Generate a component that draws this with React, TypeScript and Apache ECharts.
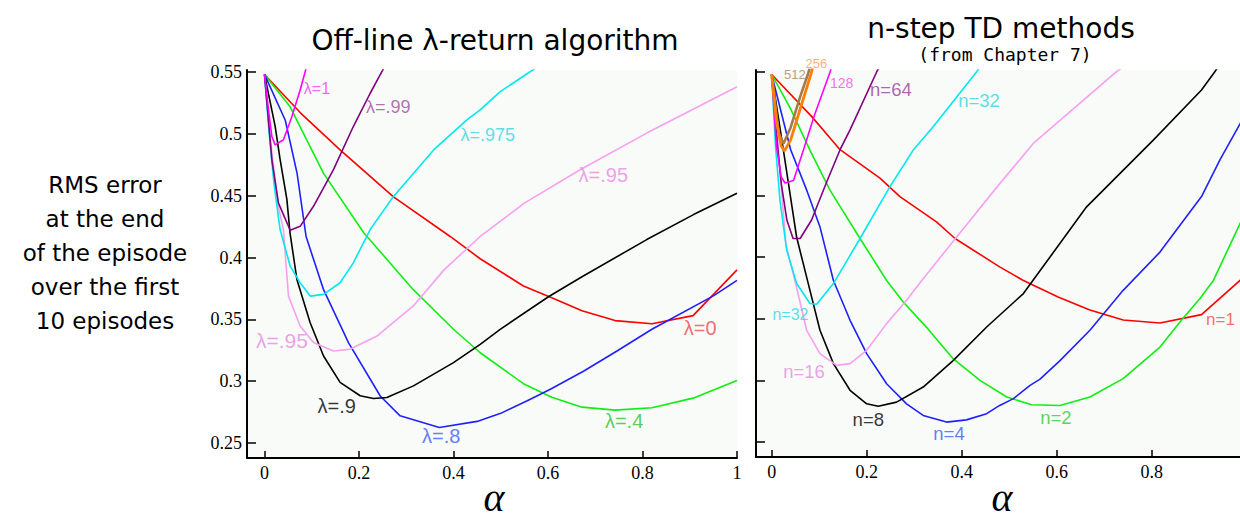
import React, { useEffect, useRef } from "react";
import * as echarts from "echarts";

// ---------- Left: Off-line λ-return algorithm ----------
const L_lambda0 = [[0,0.548],[0.076,0.517],[0.16,0.487],[0.273,0.449],[0.393,0.417],[0.4565,0.399],[0.548,0.377],[0.608,0.3675],[0.672,0.357],[0.742,0.349],[0.82,0.3465],[0.907,0.353],[1.0,0.39]];
const L_lambda04 = [[0,0.548],[0.054,0.522],[0.125,0.468],[0.21,0.42],[0.315,0.374],[0.4,0.342],[0.4565,0.323],[0.548,0.298],[0.608,0.287],[0.672,0.279],[0.742,0.2766],[0.82,0.2785],[0.907,0.2863],[1.0,0.3005]];
const L_lambda08 = [[0,0.548],[0.044,0.511],[0.069,0.468],[0.088,0.417],[0.125,0.374],[0.178,0.331],[0.245,0.288],[0.287,0.272],[0.37,0.2625],[0.45,0.2675],[0.5,0.274],[0.555,0.284],[0.605,0.2935],[0.675,0.308],[0.746,0.3244],[0.82,0.342],[0.95,0.369],[1.0,0.3815]];
const L_lambda09 = [[0,0.548],[0.0226,0.506],[0.0332,0.479],[0.0474,0.447],[0.054,0.42],[0.0686,0.3823],[0.0967,0.3473],[0.125,0.3204],[0.16,0.299],[0.2025,0.2882],[0.2307,0.286],[0.259,0.2868],[0.3153,0.2962],[0.4,0.315],[0.4565,0.3298],[0.4988,0.3419],[0.601,0.3683],[0.672,0.3844],[0.809,0.4145],[0.908,0.4347],[1.0,0.452]];
const L_lambda095 = [[0,0.548],[0.01,0.505],[0.02,0.47],[0.03,0.44],[0.04,0.4226],[0.0508,0.3688],[0.0755,0.3446],[0.1037,0.3312],[0.146,0.3244],[0.181,0.3258],[0.238,0.3365],[0.315,0.3608],[0.38,0.39],[0.4565,0.417],[0.55,0.444],[0.668,0.471],[0.809,0.5006],[1.0,0.5381]];
const L_lambda0975 = [[0,0.548],[0.01,0.5],[0.02,0.46],[0.033,0.4226],[0.0544,0.393],[0.0755,0.3796],[0.0967,0.3688],[0.125,0.3702],[0.16,0.3796],[0.188,0.3957],[0.2237,0.4226],[0.273,0.4494],[0.358,0.487],[0.4283,0.5113],[0.4565,0.5194],[0.499,0.5341],[0.562,0.5502],[0.6,0.56]];
const L_lambda099 = [[0,0.548],[0.0156,0.479],[0.0296,0.444],[0.0544,0.422],[0.0755,0.4252],[0.1037,0.4414],[0.146,0.471],[0.188,0.5059],[0.2237,0.5328],[0.2484,0.5502],[0.27,0.565]];
const L_lambda1 = [[0,0.548],[0.0085,0.5194],[0.0156,0.4978],[0.0226,0.4911],[0.0402,0.4952],[0.058,0.514],[0.0755,0.5355],[0.0861,0.5502],[0.095,0.562]];

// ---------- Right: n-step TD methods ----------
const R_n1 = [[0,0.548],[0.084,0.514],[0.144,0.487],[0.228,0.464],[0.27,0.449],[0.347,0.4285],[0.386,0.415],[0.48,0.392],[0.53,0.381],[0.603,0.3676],[0.67,0.357],[0.74,0.349],[0.8175,0.3465],[0.905,0.3533],[0.986,0.381],[1.0,0.386]];
const R_n2 = [[0,0.548],[0.04,0.52],[0.08,0.487],[0.123,0.454],[0.186,0.415],[0.242,0.381],[0.277,0.3636],[0.326,0.343],[0.382,0.3176],[0.4385,0.30],[0.495,0.2865],[0.547,0.2803],[0.607,0.2797],[0.67,0.2865],[0.74,0.3014],[0.8175,0.327],[0.863,0.349],[0.9017,0.3663],[0.93,0.381],[0.986,0.427],[1.0,0.44]];
const R_n4 = [[0,0.548],[0.04,0.487],[0.074,0.454],[0.1017,0.4244],[0.13,0.381],[0.165,0.3487],[0.2,0.3217],[0.242,0.2973],[0.284,0.281],[0.319,0.2716],[0.368,0.2662],[0.41,0.268],[0.4526,0.273],[0.48,0.2797],[0.509,0.2852],[0.544,0.296],[0.565,0.301],[0.607,0.316],[0.67,0.3406],[0.74,0.373],[0.8175,0.404],[0.905,0.449],[0.944,0.479],[0.986,0.508],[1.0,0.518]];
const R_n8 = [[0,0.548],[0.0245,0.487],[0.0526,0.416],[0.0806,0.373],[0.1017,0.3406],[0.13,0.3136],[0.165,0.292],[0.2,0.281],[0.2244,0.279],[0.263,0.2824],[0.319,0.2946],[0.382,0.316],[0.4526,0.3433],[0.53,0.3704],[0.663,0.4407],[0.8034,0.4948],[0.905,0.5354],[0.933,0.5502],[0.95,0.56]];
const R_n16 = [[0,0.548],[0.014,0.487],[0.03,0.41],[0.049,0.381],[0.0737,0.3406],[0.1017,0.3217],[0.1368,0.3122],[0.165,0.3136],[0.2,0.3244],[0.242,0.346],[0.284,0.365],[0.316,0.381],[0.3895,0.4163],[0.4806,0.4597],[0.5508,0.4921],[0.726,0.5502],[0.76,0.56]];
const R_n32 = [[0,0.548],[0.008,0.49],[0.0175,0.446],[0.0316,0.4055],[0.0526,0.3785],[0.0806,0.3623],[0.0947,0.3617],[0.13,0.3785],[0.186,0.415],[0.249,0.457],[0.298,0.4867],[0.34,0.5056],[0.4316,0.5502],[0.45,0.56]];
const R_n64 = [[0,0.548],[0.01,0.5],[0.02,0.46],[0.032,0.43],[0.045,0.415],[0.06,0.415],[0.084,0.43],[0.116,0.461],[0.144,0.487],[0.165,0.503],[0.221,0.55],[0.235,0.56]];
const R_n128 = [[0,0.548],[0.01,0.49],[0.02,0.465],[0.028,0.46],[0.046,0.462],[0.067,0.487],[0.09,0.515],[0.123,0.55],[0.13,0.56]];
const R_n256 = [[0,0.548],[0.01,0.51],[0.02,0.49],[0.027,0.486],[0.04,0.495],[0.06,0.52],[0.084,0.55],[0.09,0.56]];
const R_n512 = [[0,0.548],[0.015,0.5],[0.025,0.492],[0.04,0.505],[0.06,0.53],[0.077,0.549],[0.085,0.56]];

// ---------- Axis ticks ----------
const xTicksLeft = [0, 0.2, 0.4, 0.6, 0.8, 1];
const xTicksRight = [0, 0.2, 0.4, 0.6, 0.8];
const yTicks = [0.25, 0.3, 0.35, 0.4, 0.45, 0.5, 0.55];

// ---------- Curve labels: [text, x, y] ----------
const leftLabels: [string, number, number][] = [
  ["λ=1", 0.111, 0.5369],
  ["λ=.99", 0.262, 0.522],
  ["λ=.975", 0.4723, 0.4992],
  ["λ=.95", 0.717, 0.467],
  ["λ=.95", 0.037, 0.3325],
  ["λ=.9", 0.153, 0.28],
  ["λ=.8", 0.374, 0.2556],
  ["λ=.4", 0.761, 0.268],
  ["λ=0", 0.922, 0.3433],
];
const rightLabels: [string, number, number][] = [
  ["512", 0.049, 0.5476],
  ["256", 0.0943, 0.5565],
  ["128", 0.1474, 0.5408],
  ["n=64", 0.251, 0.5354],
  ["n=32", 0.4366, 0.5267],
  ["n=32", 0.0396, 0.3536],
  ["n=16", 0.068, 0.3075],
  ["n=8", 0.2034, 0.2686],
  ["n=4", 0.3733, 0.2567],
  ["n=2", 0.5985, 0.2702],
  ["n=1", 0.945, 0.3493],
];

const leftLabelStyle = [
  { color: "#f03cf0", size: 16 },
  { color: "#a04ca2", size: 18 },
  { color: "#34d6e0", size: 18 },
  { color: "#e88ae6", size: 20 },
  { color: "#e88ae6", size: 21 },
  { color: "#000000", size: 20 },
  { color: "#3c5cf5", size: 20 },
  { color: "#34bf34", size: 20 },
  { color: "#f04848", size: 20 },
];
const rightLabelStyle = [
  { color: "#a8845c", size: 13 },
  { color: "#f5a04a", size: 13 },
  { color: "#f04cf0", size: 14 },
  { color: "#9a3e9c", size: 18.5 },
  { color: "#34d6e0", size: 18.5 },
  { color: "#34d6e0", size: 16 },
  { color: "#e88ae6", size: 18.5 },
  { color: "#000000", size: 18.5 },
  { color: "#3c5cf5", size: 18.5 },
  { color: "#34c934", size: 18.5 },
  { color: "#f04848", size: 17 },
];

const TOP = 70;
const HEIGHT = 388;
const YMIN = 0.2379;
const YMAX = 0.5516;

export default function App() {
  const ref = useRef<HTMLDivElement>(null);
  useEffect(() => {
    if (!ref.current) return;
    const chart = echarts.init(ref.current, null, { renderer: "svg" });
    const line = (data: number[][], color: string, idx: number, width = 1.6) => ({
      type: "line",
      xAxisIndex: idx,
      yAxisIndex: idx,
      data,
      showSymbol: false,
      symbol: "none",
      smooth: false,
      lineStyle: { color, width },
      clip: true,
      z: 3,
    });
    const labelSeries = (labels: [string, number, number][], styles: { color: string; size: number }[], idx: number) => ({
      type: "scatter",
      xAxisIndex: idx,
      yAxisIndex: idx,
      symbolSize: 1,
      clip: false,
      itemStyle: { color: "rgba(0,0,0,0)" },
      z: 5,
      data: labels.map((l, i) => ({
        name: l[0],
        value: [l[1], l[2]],
        label: {
          show: true,
          position: "inside",
          formatter: "{b}",
          color: styles[i].color,
          fontSize: styles[i].size,
          fontFamily: "Liberation Sans, Arial, sans-serif",
        },
      })),
    });
    const xAxis = (idx: number, min: number, max: number, ticks: number[]) => ({
      type: "value",
      gridIndex: idx,
      min,
      max,
      axisLine: { show: true, onZero: false, lineStyle: { color: "#000", width: 2 } },
      axisTick: { show: true, inside: true, length: 7, customValues: ticks, lineStyle: { color: "#000", width: 1.5 } },
      axisLabel: {
        show: true,
        customValues: ticks,
        formatter: (v: number) => String(Math.round(v * 10) / 10),
        color: "#000",
        fontSize: 18,
        fontFamily: "Liberation Serif, Times New Roman, serif",
        margin: 6,
      },
      splitLine: { show: false },
    });
    const yAxis = (idx: number, showLabels: boolean) => ({
      type: "value",
      gridIndex: idx,
      min: YMIN,
      max: YMAX,
      axisLine: { show: true, onZero: false, lineStyle: { color: "#000", width: 2 } },
      axisTick: { show: true, inside: true, length: 9, customValues: yTicks, lineStyle: { color: "#000", width: 1.5 } },
      axisLabel: {
        show: showLabels,
        customValues: yTicks,
        formatter: (v: number) => String(Math.round(v * 100) / 100),
        color: "#000",
        fontSize: 18,
        fontFamily: "Liberation Serif, Times New Roman, serif",
        margin: 5,
      },
      splitLine: { show: false },
    });
    const alpha = (x: number) => ({
      type: "text",
      x,
      y: 517,
      style: {
        text: "α",
        fontSize: 40,
        fontStyle: "italic",
        fontFamily: "Liberation Serif, serif",
        fill: "#000",
        textAlign: "center",
        textVerticalAlign: "bottom",
      },
    });

    chart.setOption({
      animation: false,
      backgroundColor: "#ffffff",
      grid: [
        { left: 247, top: TOP, width: 490, height: HEIGHT, show: true, backgroundColor: "#f8fbf7", borderWidth: 0, containLabel: false, outerBoundsMode: "none" },
        { left: 756, top: TOP, width: 484, height: HEIGHT - 1, show: true, backgroundColor: "#f8fbf7", borderWidth: 0, containLabel: false, outerBoundsMode: "none" },
      ],
      xAxis: [xAxis(0, -0.037, 1, xTicksLeft), xAxis(1, -0.033, 0.986, xTicksRight)],
      yAxis: [yAxis(0, true), yAxis(1, false)],
      graphic: [
        {
          type: "text",
          x: 495,
          y: 40,
          style: { text: "Off-line λ-return algorithm", fontSize: 28, fontFamily: "DejaVu Sans, sans-serif", fill: "#000", textAlign: "center", textVerticalAlign: "middle" },
        },
        {
          type: "text",
          x: 1001,
          y: 28,
          style: { text: "n-step TD methods", fontSize: 28, fontFamily: "DejaVu Sans, sans-serif", fill: "#000", textAlign: "center", textVerticalAlign: "middle" },
        },
        {
          type: "text",
          x: 1005,
          y: 54,
          style: { text: "(from Chapter 7)", fontSize: 18, fontFamily: "DejaVu Sans Mono, monospace", fill: "#000", textAlign: "center", textVerticalAlign: "middle" },
        },
        {
          type: "text",
          x: 105,
          y: 168,
          style: {
            text: "RMS error\nat the end\nof the episode\nover the first\n10 episodes",
            fontSize: 23,
            lineHeight: 34,
            fontFamily: "DejaVu Sans, sans-serif",
            fill: "#000",
            textAlign: "center",
            textVerticalAlign: "top",
          },
        },
        alpha(494),
        alpha(1002),
      ],
      series: [
        line(L_lambda0, "#ff0000", 0),
        line(L_lambda04, "#11ee11", 0),
        line(L_lambda08, "#2020ff", 0),
        line(L_lambda09, "#000000", 0),
        line(L_lambda095, "#f7a0f2", 0),
        line(L_lambda0975, "#00e8f0", 0),
        line(L_lambda099, "#800080", 0),
        line(L_lambda1, "#ff00ff", 0),
        line(R_n1, "#ff0000", 1),
        line(R_n2, "#11ee11", 1),
        line(R_n4, "#2020ff", 1),
        line(R_n8, "#000000", 1),
        line(R_n16, "#f7a0f2", 1),
        line(R_n32, "#00e8f0", 1),
        line(R_n64, "#800080", 1),
        line(R_n128, "#ff00ff", 1),
        line(R_n512, "#a57a4c", 1, 2.6),
        line(R_n256, "#ff8000", 1, 2.8),
        labelSeries(leftLabels, leftLabelStyle, 0),
        labelSeries(rightLabels, rightLabelStyle, 1),
      ],
    });
    return () => chart.dispose();
  }, []);
  return (
    <div
      ref={ref}
      style={{ position: "absolute", left: 0, top: 0, width: 1240, height: 518, background: "#fff" }}
    />
  );
}
